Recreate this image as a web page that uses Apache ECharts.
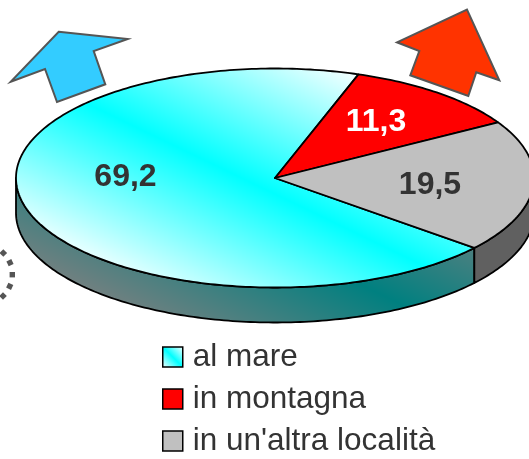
<!DOCTYPE html>
<html><head><meta charset="utf-8">
<style>html,body{margin:0;padding:0;background:#fff}#c{width:529px;height:459px}</style>
<script src="https://cdn.jsdelivr.net/npm/echarts@6/dist/echarts.min.js"></script>
</head><body><div id="c"></div>
<script>
var categories = ['al mare', 'in montagna', "in un'altra località"];
var values = [69.2, 11.3, 19.5];
var labelColors = ['#333333', '#ffffff', '#333333'];

var CX = 275, CY = 178, RX = 259, RY = 109.5, DEPTH = 35, FONT = 'Liberation Sans, Arial, sans-serif';
var START_DEG = 71.2; /* where the red slice begins, going clockwise */
var labelPos = [[125.5, 177], [376, 122], [430, 185]];

function stops(a, b) { return [{offset: 0, color: a}, {offset: 0.5, color: b}, {offset: 1, color: a}]; }
var topFill = [
  {type: 'linear', global: true, x: 135, y: 293, x2: 265, y2: 23, colorStops: stops('#ffffff', '#00ffff')},
  '#ff0000', '#c0c0c0'
];
var sideFill = [
  {type: 'linear', global: true, x: 317, y: 419, x2: 439, y2: 167, colorStops: stops('#808080', '#008080')},
  '#800000', '#606060'
];
var swatchFill = [
  {type: 'linear', x: 0, y: 1, x2: 1, y2: 0, colorStops: stops('#ffffff', '#00ffff')},
  '#ff0000', '#c0c0c0'
];

/* slice angle ranges in degrees, running clockwise from the red slice */
var total = values.reduce(function (a, b) { return a + b; }, 0);
var ranges = [];
(function () {
  var a = START_DEG;
  [1, 2, 0].forEach(function (i) {
    var sweep = values[i] / total * 360;
    ranges[i] = [a, a - sweep];
    a -= sweep;
  });
})();

function pt(deg, dy) {
  var t = deg * Math.PI / 180;
  return [CX + RX * Math.cos(t), CY - RY * Math.sin(t) + (dy || 0)];
}
function arcPoints(a0, a1, dy) {
  var pts = [], n = Math.max(2, Math.ceil(Math.abs(a0 - a1) / 1));
  for (var k = 0; k <= n; k++) pts.push(pt(a0 + (a1 - a0) * k / n, dy));
  return pts;
}
function sliceItem(i) {
  return function () {
    var r = ranges[i], children = [];
    /* wall: the front half of the rim is the part where the angle is in [-180, 0] */
    var lo = Math.max(r[1], -180), hi = Math.min(r[0], 0);
    if (hi > lo) {
      var pts = arcPoints(hi, lo, 0).concat(arcPoints(lo, hi, DEPTH));
      children.push({type: 'polygon', shape: {points: pts},
        style: {fill: sideFill[i], stroke: '#000', lineWidth: 1.8, lineJoin: 'round'}});
    }
    var face = [[CX, CY]].concat(arcPoints(r[0], r[1], 0));
    children.push({type: 'polygon', shape: {points: face},
      style: {fill: topFill[i], stroke: '#000', lineWidth: 1.8, lineJoin: 'round'}});
    children.push({type: 'text', z2: 10, style: {
      text: values[i].toFixed(1).replace('.', ','),
      x: labelPos[i][0], y: labelPos[i][1], align: 'center', verticalAlign: 'middle',
      fill: labelColors[i], font: 'bold 32px ' + FONT}});
    return {type: 'group', children: children};
  };
}

var arrowBlue = [[58.7,31.7],[127.7,39],[93.7,51],[105.3,84.3],[57,102],[45,69],[10.7,81.7]];
var arrowRed = [[467,9.7],[499.3,80.3],[476.3,72.3],[468.3,96],[410.3,75.3],[419.3,51],[397,42.3]];
var dots = [[3.3,253,45],[10,262.7,25],[12.3,274.7,0],[9.7,286.3,-25],[3,296,-45]];

var graphics = [
  {type: 'polygon', shape: {points: arrowBlue}, style: {fill: '#33ccff', stroke: '#555555', lineWidth: 2}},
  {type: 'polygon', shape: {points: arrowRed}, style: {fill: '#ff3300', stroke: '#555555', lineWidth: 2}}
].concat(dots.map(function (d) {
  return {type: 'rect', x: d[0], y: d[1], rotation: d[2] * Math.PI / 180,
    shape: {x: -2.7, y: -2.7, width: 5.4, height: 5.4}, style: {fill: '#555555'}};
}));

var order = [0, 1, 2];
var chart = echarts.init(document.getElementById('c'), null, {renderer: 'canvas'});
chart.setOption({
  animation: false,
  backgroundColor: '#ffffff',
  legend: {
    orient: 'vertical', left: 162, top: 341, height: 118, itemWidth: 20, itemHeight: 20, itemGap: 10,
    selectedMode: false, padding: 0,
    textStyle: {fontFamily: FONT, fontSize: 31.5, color: '#333333', lineHeight: 20, padding: [4, 0, 0, 5]},
    data: order.map(function (i) {
      return {name: categories[i], icon: 'rect',
        itemStyle: {color: swatchFill[i], borderColor: '#000', borderWidth: 1.5}};
    })
  },
  graphic: graphics,
  series: order.map(function (i) {
    return {type: 'custom', name: categories[i], coordinateSystem: 'none',
      data: [[values[i]]], renderItem: sliceItem(i), silent: true,
      itemStyle: {color: typeof topFill[i] === 'string' ? topFill[i] : '#00ffff'}};
  })
});
</script></body></html>
